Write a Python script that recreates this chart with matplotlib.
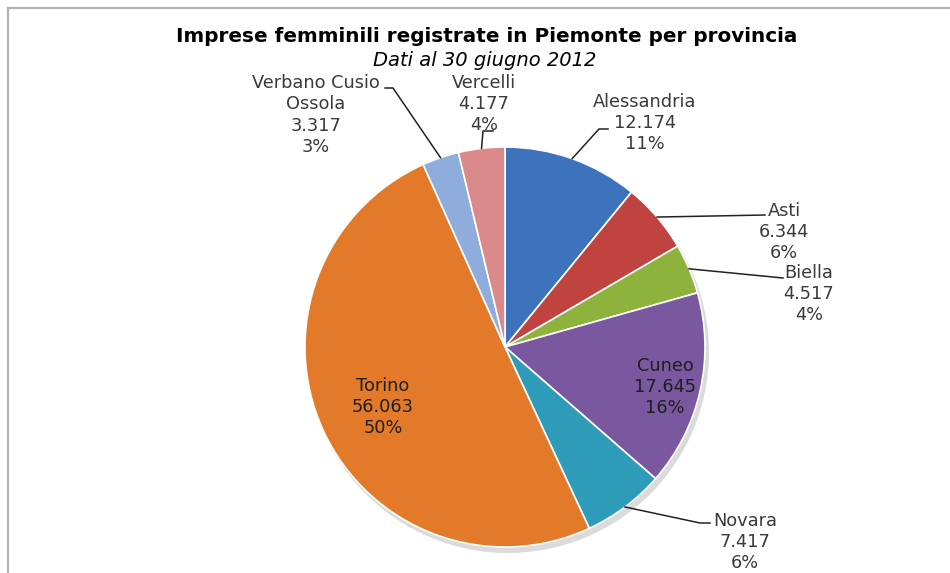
import matplotlib
matplotlib.use('Agg')
import matplotlib.pyplot as plt
import numpy as np
from matplotlib.lines import Line2D
from matplotlib.patches import Circle

# dati: imprese femminili registrate al 30 giugno 2012
province = ['Alessandria', 'Asti', 'Biella', 'Cuneo', 'Novara', 'Torino',
            'Verbano Cusio\nOssola', 'Vercelli']
imprese = [12174, 6344, 4517, 17645, 7417, 56063, 3317, 4177]
valori_txt = ['12.174', '6.344', '4.517', '17.645', '7.417', '56.063', '3.317', '4.177']
percentuali = ['11%', '6%', '4%', '16%', '6%', '50%', '3%', '4%']
colori = ['#3D72BC', '#C0433F', '#8DB33D', '#7A58A0', '#2E9BB8', '#E27A2A',
          '#8EADDC', '#DA8A8B']

W, H = 950, 573
CX, CY, R = 505, 347, 200   # centro e raggio della torta (pixel immagine)

# posizione etichette (pixel immagine): centro testo, punti della linea guida
layout = {
    0: ((645, 123), [(599, 129), (608, 129)]),
    1: ((784, 232), [(765, 215)]),
    2: ((809, 294), [(783, 278)]),
    3: ((665, 387), None),
    4: ((745, 542), [(700, 523), (710, 523)]),
    5: ((383, 407), None),
    6: ((316, 115), [(393, 88), (385, 88)]),
    7: ((484, 104), [(483, 131), (493, 131)]),
}

fig = plt.figure(figsize=(W / 100, H / 100), dpi=100)
ax = fig.add_axes([0, 0, 1, 1])

wedges, _ = ax.pie(imprese, colors=colori, startangle=90, counterclock=False,
                   center=(CX, H - CY), radius=R,
                   wedgeprops=dict(edgecolor='white', linewidth=1.2))
# ombra sotto la torta
ax.add_patch(Circle((CX + 3, H - CY - 5), R + 1, color='#9a9a9a', alpha=0.35,
                    zorder=0, lw=0))
ax.set_xlim(0, W)
ax.set_ylim(0, H)
ax.set_aspect('equal')
ax.axis('off')

for i, w in enumerate(wedges):
    (tx, ty), punti = layout[i]
    testo = f'{province[i]}\n{valori_txt[i]}\n{percentuali[i]}'
    interno = punti is None
    ax.text(tx, H - ty, testo, ha='center', va='center', multialignment='center',
            fontsize=12.8, linespacing=1.22,
            color='#1e1e1e' if interno else '#3a3a3a', zorder=5)
    if not interno:
        ang = np.deg2rad((w.theta1 + w.theta2) / 2)
        xs = [CX + R * np.cos(ang)] + [p[0] for p in punti]
        ys = [H - CY + R * np.sin(ang)] + [H - p[1] for p in punti]
        ax.plot(xs, ys, color='#222222', lw=1.1, zorder=4)

fig.text(487 / W, 1 - 37 / H, 'Imprese femminili registrate in Piemonte per provincia',
         ha='center', va='center', fontsize=14.4, fontweight='bold', color='black')
fig.text(485 / W, 1 - 61 / H, 'Dati al 30 giugno 2012',
         ha='center', va='center', fontsize=14, style='italic', color='black')

# cornice del grafico (solo bordo superiore e sinistro visibili)
fig.add_artist(Line2D([8 / W, 1], [1 - 8 / H, 1 - 8 / H], transform=fig.transFigure,
                      color='#b4b4b4', lw=1.6))
fig.add_artist(Line2D([8 / W, 8 / W], [0, 1 - 8 / H], transform=fig.transFigure,
                      color='#b4b4b4', lw=1.6))

fig.savefig('out.png', dpi=100, facecolor='white')
